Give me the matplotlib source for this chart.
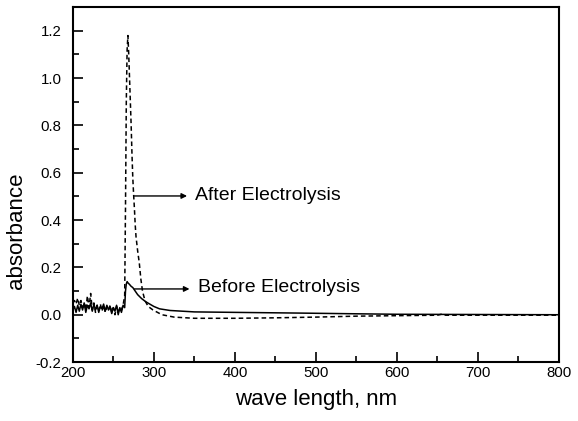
import matplotlib.pyplot as plt
import numpy as np

plt.rcParams['font.family'] = ['Liberation Sans', 'DejaVu Sans']

# noisy start region, 200-262 nm, 2 nm step
noise_wl = list(range(200, 264, 2))
before_noise = [0.02, 0.035, 0.01, 0.04, 0.015, 0.045, 0.02, 0.05, 0.01, 0.04, 0.025, 0.05,
                0.015, 0.045, 0.02, 0.04, 0.01, 0.035, 0.025, 0.045, 0.015, 0.04, 0.02, 0.035,
                0.005, 0.03, 0.015, 0.04, 0.0, 0.03, 0.01, 0.04]
after_noise = [0.05, 0.06, 0.045, 0.07, 0.04, 0.06, 0.03, 0.05, 0.02, 0.08, 0.03, 0.09,
               0.02, 0.05, 0.01, 0.04, 0.02, 0.045, 0.015, 0.04, 0.01, 0.035, 0.02, 0.04,
               0.01, 0.03, 0.0, 0.035, 0.01, 0.03, 0.02, 0.04]

# peak and tail
before_wl = [264, 265, 266, 267, 268, 270, 272, 274, 277, 280, 285, 290, 295, 300, 307,
             320, 350, 400, 480, 550, 600, 700, 800]
before_tail = [0.03, 0.1, 0.13, 0.14, 0.135, 0.128, 0.12, 0.115, 0.1, 0.085, 0.068, 0.055,
               0.045, 0.035, 0.025, 0.018, 0.012, 0.01, 0.007, 0.004, 0.002, 0.001, 0.0]

after_wl = [264, 265, 266, 267, 268, 269, 270, 271, 272, 273, 274, 275, 276, 277, 278, 280,
            282, 284, 286, 289, 293, 299, 310, 325, 350, 400, 450, 500, 550, 600, 650, 656,
            660, 700, 800]
after_tail = [0.08, 0.45, 0.9, 1.12, 1.18, 1.1, 1.0, 0.9, 0.8, 0.68, 0.58, 0.51, 0.45, 0.38,
              0.33, 0.27, 0.22, 0.15, 0.1, 0.06, 0.035, 0.02, 0.0, -0.01, -0.015, -0.015,
              -0.013, -0.01, -0.006, -0.004, -0.002, 0.003, -0.002, -0.002, -0.002]

x_before = noise_wl + before_wl
y_before = before_noise + before_tail
x_after = noise_wl + after_wl
y_after = after_noise + after_tail

fig = plt.figure(figsize=(5.78, 4.21), dpi=100)
ax = fig.add_axes([0.126, 0.140, 0.841, 0.843])

ax.plot(x_before, y_before, color='black', linewidth=1.1)
ax.plot(x_after, y_after, color='black', linewidth=1.1, linestyle=(0, (3, 2)))

# arrows with labels
ax.annotate('', xy=(341, 0.502), xytext=(276, 0.502),
            arrowprops=dict(arrowstyle='-|>', color='black', lw=1.0,
                            mutation_scale=8, shrinkA=0, shrinkB=0))
ax.text(351, 0.502, 'After Electrolysis', fontsize=14, va='center', ha='left')
ax.annotate('', xy=(344, 0.109), xytext=(276, 0.109),
            arrowprops=dict(arrowstyle='-|>', color='black', lw=1.0,
                            mutation_scale=8, shrinkA=0, shrinkB=0))
ax.text(354, 0.115, 'Before Electrolysis', fontsize=14, va='center', ha='left')

ax.set_xlim(200, 800)
ax.set_ylim(-0.2, 1.3)
ax.set_xticks(np.arange(200, 801, 100))
ax.set_xticks(np.arange(250, 800, 100), minor=True)
ax.set_yticks([-0.2, 0.0, 0.2, 0.4, 0.6, 0.8, 1.0, 1.2])
ax.set_yticklabels(['-0.2', '0.0', '0.2', '0.4', '0.6', '0.8', '1.0', '1.2'])
ax.set_yticks(np.arange(-0.1, 1.3, 0.2), minor=True)
ax.tick_params(which='both', direction='in', width=1.2, labelsize=10.8)
ax.tick_params(axis='x', pad=3)
ax.tick_params(axis='y', pad=8)
ax.tick_params(which='major', length=7)
ax.tick_params(which='minor', length=4)
for s in ax.spines.values():
    s.set_linewidth(1.5)

ax.set_xlabel('wave length, nm', fontsize=16, labelpad=6)
ax.set_ylabel('absorbance', fontsize=16, labelpad=6)
ax.yaxis.set_label_coords(-0.095, 0.37)

fig.savefig('out.png', dpi=100)
